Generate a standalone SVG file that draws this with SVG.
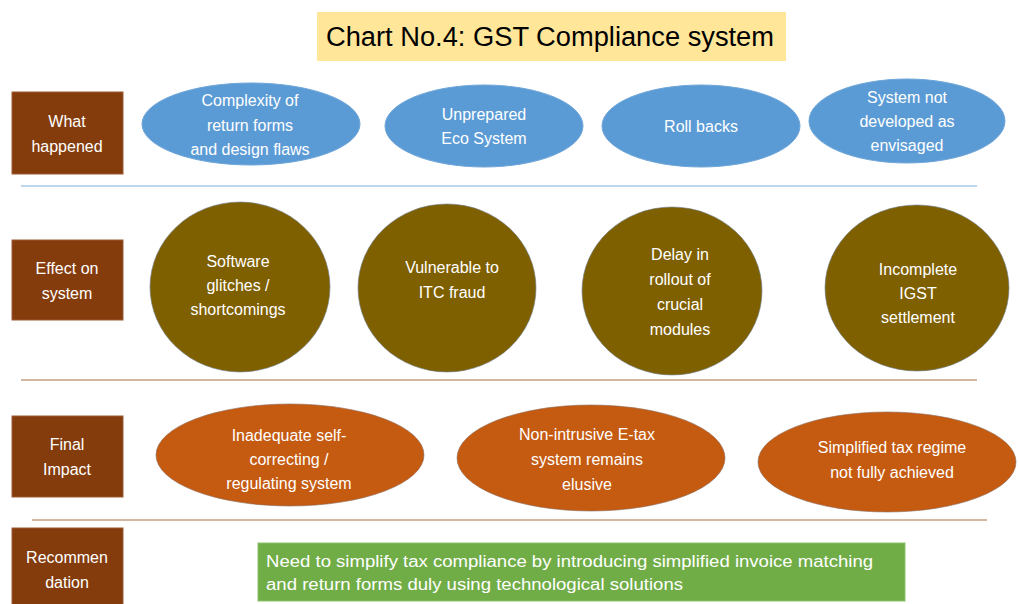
<svg xmlns="http://www.w3.org/2000/svg" width="1018" height="604" viewBox="0 0 1018 604">
<style>
.lbl{fill:#843C0C;stroke:#9C5A34;stroke-width:1}
.lt{font-family:"Liberation Sans",Arial,sans-serif;font-size:16px;fill:#FFFFFF;text-anchor:middle}
.blue{fill:#5B9BD5;stroke:#6FA6D8;stroke-width:1}
.olive{fill:#7F6000;stroke:#6F7F8F;stroke-width:1;stroke-opacity:0.6}
.orange{fill:#C55A11;stroke:#8A6A5A;stroke-width:1;stroke-opacity:0.6}
.title{font-family:"Liberation Sans",Arial,sans-serif;font-size:27px;fill:#000000;text-anchor:middle}
</style>
<rect width="1018" height="604" fill="#FFFFFF"/>
<g id="title">
<rect x="317" y="12" width="469" height="49" fill="#FFE699"/>
<text class="title" x="550" y="46" textLength="448" lengthAdjust="spacingAndGlyphs">Chart No.4: GST Compliance system</text>
</g>
<g id="connectors">
<line x1="21" y1="186" x2="977" y2="186" stroke="#BDD7EE" stroke-width="2"/>
<line x1="21" y1="380" x2="977" y2="380" stroke="#D2B8A3" stroke-width="2"/>
<line x1="32" y1="520" x2="987" y2="520" stroke="#D2B8A3" stroke-width="2"/>
</g>
<g id="row-what">
<rect class="lbl" x="12" y="92" width="111" height="82"/>
<text class="lt" x="67" y="127">What</text>
<text class="lt" x="67" y="152">happened</text>
</g>
<g id="row-effect">
<rect class="lbl" x="12" y="240" width="111" height="80"/>
<text class="lt" x="67" y="274">Effect on</text>
<text class="lt" x="67" y="299">system</text>
</g>
<g id="row-final">
<rect class="lbl" x="12" y="416" width="111" height="81"/>
<text class="lt" x="67" y="450">Final</text>
<text class="lt" x="67" y="475">Impact</text>
</g>
<g id="row-recommendation">
<rect class="lbl" x="12" y="528" width="111" height="80"/>
<text class="lt" x="67" y="563">Recommen</text>
<text class="lt" x="67" y="588">dation</text>
</g>
<g id="what-1">
<ellipse class="blue" cx="251" cy="124" rx="109" ry="41"/>
<text class="lt" x="250" y="106">Complexity of</text>
<text class="lt" x="250" y="131">return forms</text>
<text class="lt" x="250" y="155">and design flaws</text>
</g>
<g id="what-2">
<ellipse class="blue" cx="484" cy="126" rx="99" ry="41"/>
<text class="lt" x="484" y="120">Unprepared</text>
<text class="lt" x="484" y="144">Eco System</text>
</g>
<g id="what-3">
<ellipse class="blue" cx="701" cy="126" rx="99" ry="41"/>
<text class="lt" x="701" y="132">Roll backs</text>
</g>
<g id="what-4">
<ellipse class="blue" cx="907" cy="121" rx="98" ry="42"/>
<text class="lt" x="907" y="103">System not</text>
<text class="lt" x="907" y="127">developed as</text>
<text class="lt" x="907" y="151">envisaged</text>
</g>
<g id="effect-1">
<ellipse class="olive" cx="240" cy="287" rx="90" ry="85"/>
<text class="lt" x="238" y="267">Software</text>
<text class="lt" x="238" y="291">glitches /</text>
<text class="lt" x="238" y="315">shortcomings</text>
</g>
<g id="effect-2">
<ellipse class="olive" cx="447" cy="288" rx="89" ry="84"/>
<text class="lt" x="452" y="273">Vulnerable to</text>
<text class="lt" x="452" y="298">ITC fraud</text>
</g>
<g id="effect-3">
<ellipse class="olive" cx="672" cy="291" rx="90" ry="84"/>
<text class="lt" x="680" y="260">Delay in</text>
<text class="lt" x="680" y="285">rollout of</text>
<text class="lt" x="680" y="310">crucial</text>
<text class="lt" x="680" y="335">modules</text>
</g>
<g id="effect-4">
<ellipse class="olive" cx="917" cy="288" rx="92" ry="83"/>
<text class="lt" x="918" y="275">Incomplete</text>
<text class="lt" x="918" y="299">IGST</text>
<text class="lt" x="918" y="323">settlement</text>
</g>
<g id="impact-1">
<ellipse class="orange" cx="290" cy="455" rx="134" ry="51"/>
<text class="lt" x="289" y="441">Inadequate self-</text>
<text class="lt" x="289" y="465">correcting /</text>
<text class="lt" x="289" y="489">regulating system</text>
</g>
<g id="impact-2">
<ellipse class="orange" cx="591" cy="458" rx="134" ry="53"/>
<text class="lt" x="587" y="440">Non-intrusive E-tax</text>
<text class="lt" x="587" y="465">system remains</text>
<text class="lt" x="587" y="490">elusive</text>
</g>
<g id="impact-3">
<ellipse class="orange" cx="887" cy="462" rx="129" ry="50"/>
<text class="lt" x="892" y="453">Simplified tax regime</text>
<text class="lt" x="892" y="478">not fully achieved</text>
</g>
<g id="recommendation">
<rect x="258" y="543" width="647" height="58" fill="#70AD47" stroke="#8CC168" stroke-width="1"/>
<text class="lt" x="266" y="567" style="text-anchor:start" textLength="607" lengthAdjust="spacingAndGlyphs">Need to simplify tax compliance by introducing simplified invoice matching</text>
<text class="lt" x="266" y="590" style="text-anchor:start" textLength="417" lengthAdjust="spacingAndGlyphs">and return forms duly using technological solutions</text>
</g>
</svg>
